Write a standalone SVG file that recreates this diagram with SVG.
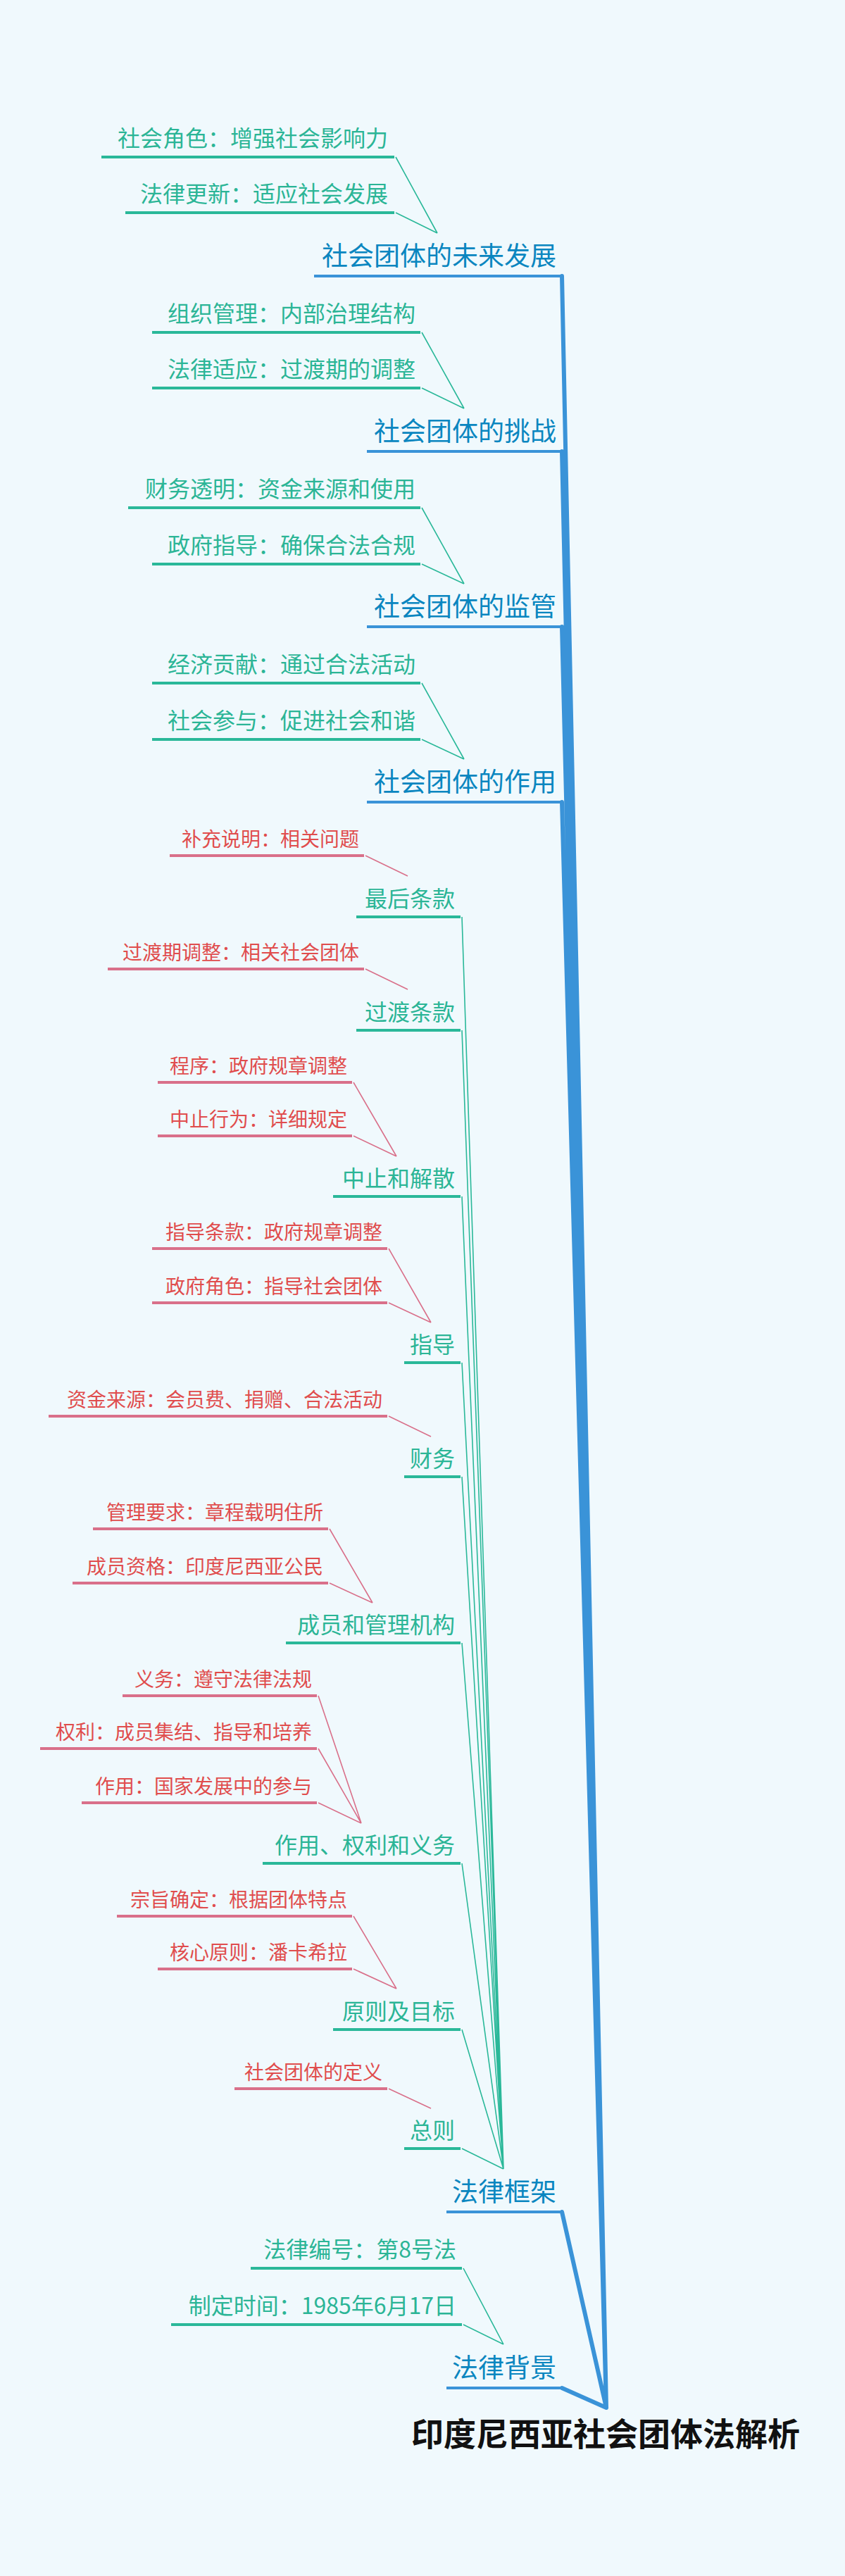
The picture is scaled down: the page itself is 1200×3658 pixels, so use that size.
<svg xmlns="http://www.w3.org/2000/svg" width="1200" height="3658" viewBox="0 0 1200 3658">
<style>
text{font-family:"Noto Sans CJK SC","Liberation Sans",sans-serif;text-anchor:end}
.h{font-size:37px;fill:#0a86c0}
.s{font-size:32px;fill:#2bb596}
.c{font-size:32px;fill:#2bb596}
.r{font-size:28px;fill:#e04d4d}
.ub{stroke:#3a93d8;stroke-width:4;fill:none}
.ut{stroke:#2ab899;stroke-width:4;fill:none}
.ur{stroke:#d9708a;stroke-width:4;fill:none}
.lb{stroke:#3a93d8;stroke-width:6;fill:none;stroke-linecap:round}
.lt{stroke:#2ab899;stroke-width:1.6;fill:none}
.lr{stroke:#d9708a;stroke-width:1.6;fill:none}
</style>
<rect width="1200" height="3658" fill="#f0f9fd"/>
<g id="connectors">
<path class="lb" d="M861 3419L798 392M861 3419L798 641M861 3419L798 890M861 3419L798 1139M861 3419L798 3141M861 3419L798 3391"/>
<path class="lt" d="M562 223L621 331M562 302L621 331M599 472L659 580M599 551L659 580M599 721L659 829M599 801L659 829M599 970L659 1078M599 1050L659 1078"/>
<path class="lt" d="M656 1302L715 3080M656 1463L715 3080M656 1699L715 3080M656 1935L715 3080M656 2097L715 3080M656 2333L715 3080M656 2646L715 3080M656 2882L715 3080M656 3051L715 3080"/>
<path class="lt" d="M658 3221L715 3329M658 3301L715 3329"/>
<path class="lr" d="M519 1215L579 1244M519 1376L579 1405M502 1537L563 1642M502 1613L563 1642M552 1773L612 1878M552 1850L612 1878M552 2011L612 2040M468 2171L529 2276M468 2248L529 2276M452 2408L513 2589M452 2483L513 2589M452 2560L513 2589M502 2721L563 2824M502 2796L563 2824M552 2966L612 2994"/>
</g>
<g id="root"><text x="1136" y="3473" style="font-size:46px;font-weight:bold;fill:#111">印度尼西亚社会团体法解析</text></g>
<g id="h1"><text class="h" x="790" y="377">社会团体的未来发展</text><path class="ub" d="M446 392H798"/></g>
<g id="h1c1"><text class="c" x="551" y="208">社会角色：增强社会影响力</text><path class="ut" d="M144 223H560"/></g>
<g id="h1c2"><text class="c" x="551" y="287">法律更新：适应社会发展</text><path class="ut" d="M178 302H560"/></g>
<g id="h2"><text class="h" x="790" y="626">社会团体的挑战</text><path class="ub" d="M521 641H798"/></g>
<g id="h2c1"><text class="c" x="590" y="457">组织管理：内部治理结构</text><path class="ut" d="M216 472H597"/></g>
<g id="h2c2"><text class="c" x="590" y="536">法律适应：过渡期的调整</text><path class="ut" d="M216 551H597"/></g>
<g id="h3"><text class="h" x="790" y="875">社会团体的监管</text><path class="ub" d="M521 890H798"/></g>
<g id="h3c1"><text class="c" x="590" y="706">财务透明：资金来源和使用</text><path class="ut" d="M182 721H597"/></g>
<g id="h3c2"><text class="c" x="590" y="786">政府指导：确保合法合规</text><path class="ut" d="M216 801H597"/></g>
<g id="h4"><text class="h" x="790" y="1124">社会团体的作用</text><path class="ub" d="M521 1139H798"/></g>
<g id="h4c1"><text class="c" x="590" y="955">经济贡献：通过合法活动</text><path class="ut" d="M216 970H597"/></g>
<g id="h4c2"><text class="c" x="590" y="1035">社会参与：促进社会和谐</text><path class="ut" d="M216 1050H597"/></g>
<g id="h5"><text class="h" x="790" y="3126">法律框架</text><path class="ub" d="M634 3141H798"/></g>
<g id="s1"><text class="s" x="646" y="1288">最后条款</text><path class="ut" d="M506 1302H654"/></g>
<g id="s1c1"><text class="r" x="510" y="1202">补充说明：相关问题</text><path class="ur" d="M241 1215H517"/></g>
<g id="s2"><text class="s" x="646" y="1449">过渡条款</text><path class="ut" d="M506 1463H654"/></g>
<g id="s2c1"><text class="r" x="510" y="1363">过渡期调整：相关社会团体</text><path class="ur" d="M153 1376H517"/></g>
<g id="s3"><text class="s" x="646" y="1685">中止和解散</text><path class="ut" d="M473 1699H654"/></g>
<g id="s3c1"><text class="r" x="493" y="1524">程序：政府规章调整</text><path class="ur" d="M224 1537H500"/></g>
<g id="s3c2"><text class="r" x="493" y="1600">中止行为：详细规定</text><path class="ur" d="M224 1613H500"/></g>
<g id="s4"><text class="s" x="646" y="1921">指导</text><path class="ut" d="M574 1935H654"/></g>
<g id="s4c1"><text class="r" x="543" y="1760">指导条款：政府规章调整</text><path class="ur" d="M216 1773H550"/></g>
<g id="s4c2"><text class="r" x="543" y="1837">政府角色：指导社会团体</text><path class="ur" d="M216 1850H550"/></g>
<g id="s5"><text class="s" x="646" y="2083">财务</text><path class="ut" d="M574 2097H654"/></g>
<g id="s5c1"><text class="r" x="543" y="1998">资金来源：会员费、捐赠、合法活动</text><path class="ur" d="M69 2011H550"/></g>
<g id="s6"><text class="s" x="646" y="2319">成员和管理机构</text><path class="ut" d="M406 2333H654"/></g>
<g id="s6c1"><text class="r" x="459" y="2158">管理要求：章程载明住所</text><path class="ur" d="M132 2171H466"/></g>
<g id="s6c2"><text class="r" x="459" y="2235">成员资格：印度尼西亚公民</text><path class="ur" d="M103 2248H466"/></g>
<g id="s7"><text class="s" x="646" y="2632">作用、权利和义务</text><path class="ut" d="M373 2646H654"/></g>
<g id="s7c1"><text class="r" x="443" y="2395">义务：遵守法律法规</text><path class="ur" d="M174 2408H450"/></g>
<g id="s7c2"><text class="r" x="443" y="2470">权利：成员集结、指导和培养</text><path class="ur" d="M57 2483H450"/></g>
<g id="s7c3"><text class="r" x="443" y="2547">作用：国家发展中的参与</text><path class="ur" d="M116 2560H450"/></g>
<g id="s8"><text class="s" x="646" y="2868">原则及目标</text><path class="ut" d="M473 2882H654"/></g>
<g id="s8c1"><text class="r" x="493" y="2708">宗旨确定：根据团体特点</text><path class="ur" d="M166 2721H500"/></g>
<g id="s8c2"><text class="r" x="493" y="2783">核心原则：潘卡希拉</text><path class="ur" d="M224 2796H500"/></g>
<g id="s9"><text class="s" x="646" y="3037">总则</text><path class="ut" d="M574 3051H654"/></g>
<g id="s9c1"><text class="r" x="543" y="2953">社会团体的定义</text><path class="ur" d="M333 2966H550"/></g>
<g id="h6"><text class="h" x="790" y="3376">法律背景</text><path class="ub" d="M634 3391H798"/></g>
<g id="h6c1"><text class="c" x="648" y="3206">法律编号：第8号法</text><path class="ut" d="M356 3221H656"/></g>
<g id="h6c2"><text class="c" x="648" y="3286">制定时间：1985年6月17日</text><path class="ut" d="M243 3301H656"/></g>
</svg>
